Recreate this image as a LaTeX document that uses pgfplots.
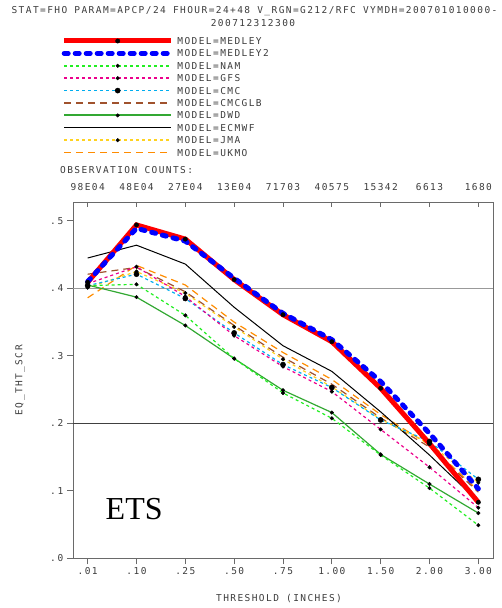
\documentclass[border=0pt]{standalone}
\usepackage{pgfplots}
\pgfplotsset{compat=1.18}
\usepackage{fontspec}
\setmainfont{DejaVu Sans Mono}[LetterSpace=15]
\newfontfamily\etsfont{Liberation Serif}
\definecolor{txt}{HTML}{3C3C3C}
\definecolor{axgray}{HTML}{6A6A6A}
\definecolor{colNAM}{RGB}{34,238,34}
\definecolor{colDWD}{RGB}{50,168,50}
\definecolor{cmcglb}{HTML}{A0522D}
\definecolor{jmayel}{HTML}{FFD21F}
\definecolor{ukmo}{HTML}{FF8C00}
\newcommand\tf{\fontsize{9.5}{11}\selectfont}
\pgfplotsset{blackdot/.style={mark=*, mark size=#1, mark options={solid, fill=black, draw=black, line width=0.4pt}}}
\begin{document}
\begin{tikzpicture}[x=1pt,y=1pt]
\path[use as bounding box] (0,0) rectangle (502,608);
\node[anchor=base, text=txt, font=\tf, inner sep=0pt] at (254.5,594.5) {STAT=FHO PARAM=APCP/24 FHOUR=24+48 V\_RGN=G212/RFC VYMDH=200701010000-};
\node[anchor=base, text=txt, font=\tf, inner sep=0pt] at (253,581.3) {200712312300};
\node[anchor=base west, text=txt, font=\tf, inner sep=0pt] at (60,434.7) {OBSERVATION COUNTS:};
\node[anchor=base west, font=\etsfont\fontsize{32}{32}\selectfont, inner sep=0pt] at (105.5,88.7) {ETS};
\begin{axis}[
  at={(73pt,49.7pt)}, anchor=south west,
  scale only axis, width=420pt, height=356.3pt,
  xmin=-0.3, xmax=8.3, ymin=0, ymax=0.528,
  xtick={0,...,8},
  xticklabels={{.\kern1.5pt01},{.\kern1.5pt10},{.\kern1.5pt25},{.\kern1.5pt50},{.\kern1.5pt75},1.00,1.50,2.00,3.00},
  ytick={0,0.1,0.2,0.3,0.4,0.5},
  yticklabels={{.\kern2pt0},{.\kern2pt1},{.\kern2pt2},{.\kern2pt3},{.\kern2pt4},{.\kern2pt5}},
  xtick pos=bottom, ytick pos=left, tick align=outside,
  major tick length=6pt,
  tick style={axgray, line width=0.8pt},
  axis line style={axgray, line width=0.9pt},
  tick label style={font=\tf, text=txt},
  xlabel={THRESHOLD (INCHES)},
  ylabel={EQ\_THT\_SCR},
  label style={font=\tf, text=txt},
  xlabel style={at={(axis description cs:0.4905,-0.1142)}, anchor=center},
  ylabel style={at={(axis description cs:-0.126,0.5)}, anchor=center},
  legend style={at={(-0.0269,1.4693)}, anchor=north west, draw=none, fill=none,
    inner sep=0pt, outer sep=0pt, row sep=0pt, column sep=3.7pt,
    nodes={inner sep=0pt, outer sep=0pt, text height=6.9pt, text depth=0pt, font=\tf}},
  legend cell align=left,
  legend image code/.code={\path[draw=none, fill=none] (0pt,-6.2pt) rectangle (107pt,6.2pt);
    \draw[#1, mark=none] (0pt,0pt) -- (107pt,0pt);
    \path[#1, draw=none] plot[only marks] coordinates {(53.5pt,0pt)};},
]
\addlegendimage{draw=red, line width=5pt, blackdot=2.2pt}
\addlegendentry{\textcolor{txt}{MODEL=MEDLEY}}
\addlegendimage{draw=blue, line width=5pt, line cap=round, dash pattern=on 4pt off 7pt}
\addlegendentry{\textcolor{txt}{MODEL=MEDLEY2}}
\addlegendimage{draw=colNAM, line width=1.6pt, dash pattern=on 3pt off 3pt, blackdot=1.8pt}
\addlegendentry{\textcolor{txt}{MODEL=NAM}}
\addlegendimage{draw=magenta, line width=1.6pt, dash pattern=on 3pt off 3pt, blackdot=1.8pt}
\addlegendentry{\textcolor{txt}{MODEL=GFS}}
\addlegendimage{draw=cyan, line width=1.6pt, dash pattern=on 3pt off 3pt, blackdot=2.6pt}
\addlegendentry{\textcolor{txt}{MODEL=CMC}}
\addlegendimage{draw=cmcglb, line width=1.6pt, dash pattern=on 7pt off 5pt}
\addlegendentry{\textcolor{txt}{MODEL=CMCGLB}}
\addlegendimage{color=colDWD, draw=colDWD, line width=1.8pt, solid, blackdot=1.8pt}
\addlegendentry{\textcolor{txt}{MODEL=DWD}}
\addlegendimage{draw=black, line width=1.2pt}
\addlegendentry{\textcolor{txt}{MODEL=ECMWF}}
\addlegendimage{draw=jmayel, line width=1.6pt, dash pattern=on 3pt off 3pt, blackdot=1.8pt}
\addlegendentry{\textcolor{txt}{MODEL=JMA}}
\addlegendimage{draw=ukmo, line width=1.6pt, dash pattern=on 7pt off 5pt}
\addlegendentry{\textcolor{txt}{MODEL=UKMO}}
% reference lines
\addplot[forget plot, color=gray!80, line width=1.4pt] coordinates {(-0.3,0.4) (8.3,0.4)};
\addplot[forget plot, color=black!75, line width=0.9pt] coordinates {(-0.3,0.2) (8.3,0.2)};
% UKMO
\addplot[forget plot, ukmo, line width=1.2pt, dash pattern=on 7pt off 5pt] coordinates {(0,0.386)(1,0.434)(2,0.405)(3,0.350)(4,0.305)(5,0.265)(6,0.213)(7,0.168)(8,0.100)};
% CMCGLB
\addplot[forget plot, cmcglb, line width=1.2pt, dash pattern=on 7pt off 5pt] coordinates {(0,0.421)(1,0.431)(2,0.395)(3,0.345)(4,0.298)(5,0.258)(6,0.208)(7,0.165)(8,0.098)};
% ECMWF
\addplot[forget plot, black, line width=1pt] coordinates {(0,0.445)(1,0.464)(2,0.436)(3,0.372)(4,0.315)(5,0.277)(6,0.217)(7,0.153)(8,0.084)};
% JMA
\addplot[forget plot, jmayel, line width=1.2pt, dash pattern=on 3pt off 3pt, blackdot=1.8pt] coordinates {(0,0.401)(1,0.425)(2,0.393)(3,0.343)(4,0.295)(5,0.254)(6,0.206)(7,0.170)(8,0.112)};
% CMC
\addplot[forget plot, cyan, line width=1.2pt, dash pattern=on 3pt off 3pt, blackdot=2.6pt] coordinates {(0,0.404)(1,0.421)(2,0.385)(3,0.334)(4,0.287)(5,0.253)(6,0.205)(7,0.173)(8,0.117)};
% GFS
\addplot[forget plot, magenta, line width=1.2pt, dash pattern=on 3pt off 3pt, blackdot=1.8pt] coordinates {(0,0.407)(1,0.432)(2,0.388)(3,0.330)(4,0.284)(5,0.247)(6,0.191)(7,0.135)(8,0.075)};
% DWD
\addplot[forget plot, colDWD, line width=1.2pt, blackdot=1.8pt] coordinates {(0,0.405)(1,0.387)(2,0.345)(3,0.296)(4,0.249)(5,0.216)(6,0.154)(7,0.110)(8,0.067)};
% NAM
\addplot[forget plot, colNAM, line width=1.2pt, dash pattern=on 3pt off 3pt, blackdot=1.8pt] coordinates {(0,0.404)(1,0.406)(2,0.360)(3,0.296)(4,0.245)(5,0.2075)(6,0.153)(7,0.104)(8,0.049)};
% MEDLEY
\addplot[forget plot, red, line width=5pt] coordinates {(0,0.409)(1,0.494)(2,0.473)(3,0.413)(4,0.361)(5,0.321)(6,0.252)(7,0.170)(8,0.083)};
% MEDLEY2
\addplot[forget plot, blue, line width=5pt, line cap=round, dash pattern=on 4pt off 7pt] coordinates {(0,0.410)(1,0.489)(2,0.470)(3,0.415)(4,0.363)(5,0.324)(6,0.262)(7,0.185)(8,0.103)};
% MEDLEY marks
\addplot[forget plot, only marks, blackdot=2.2pt] coordinates {(0,0.409)(1,0.494)(2,0.473)(3,0.413)(4,0.361)(5,0.321)(6,0.252)(7,0.170)(8,0.083)};
\end{axis}
\begin{axis}[
  at={(73pt,49.7pt)}, anchor=south west,
  scale only axis, width=420pt, height=356.3pt,
  xmin=-0.3, xmax=8.3, ymin=0, ymax=0.528,
  axis x line*=top, hide y axis,
  xtick={0,...,8},
  xticklabels={98E04,48E04,27E04,13E04,71703,40575,15342,6613,1680},
  tick align=inside, major tick length=5pt,
  tick style={axgray, line width=0.8pt},
  axis line style={axgray, line width=0.9pt},
  tick label style={font=\tf, text=txt},
  xticklabel shift=8pt,
]
\addplot[draw=none, forget plot] coordinates {(0,0) (8,0.5)};
\end{axis}
\end{tikzpicture}
\end{document}
